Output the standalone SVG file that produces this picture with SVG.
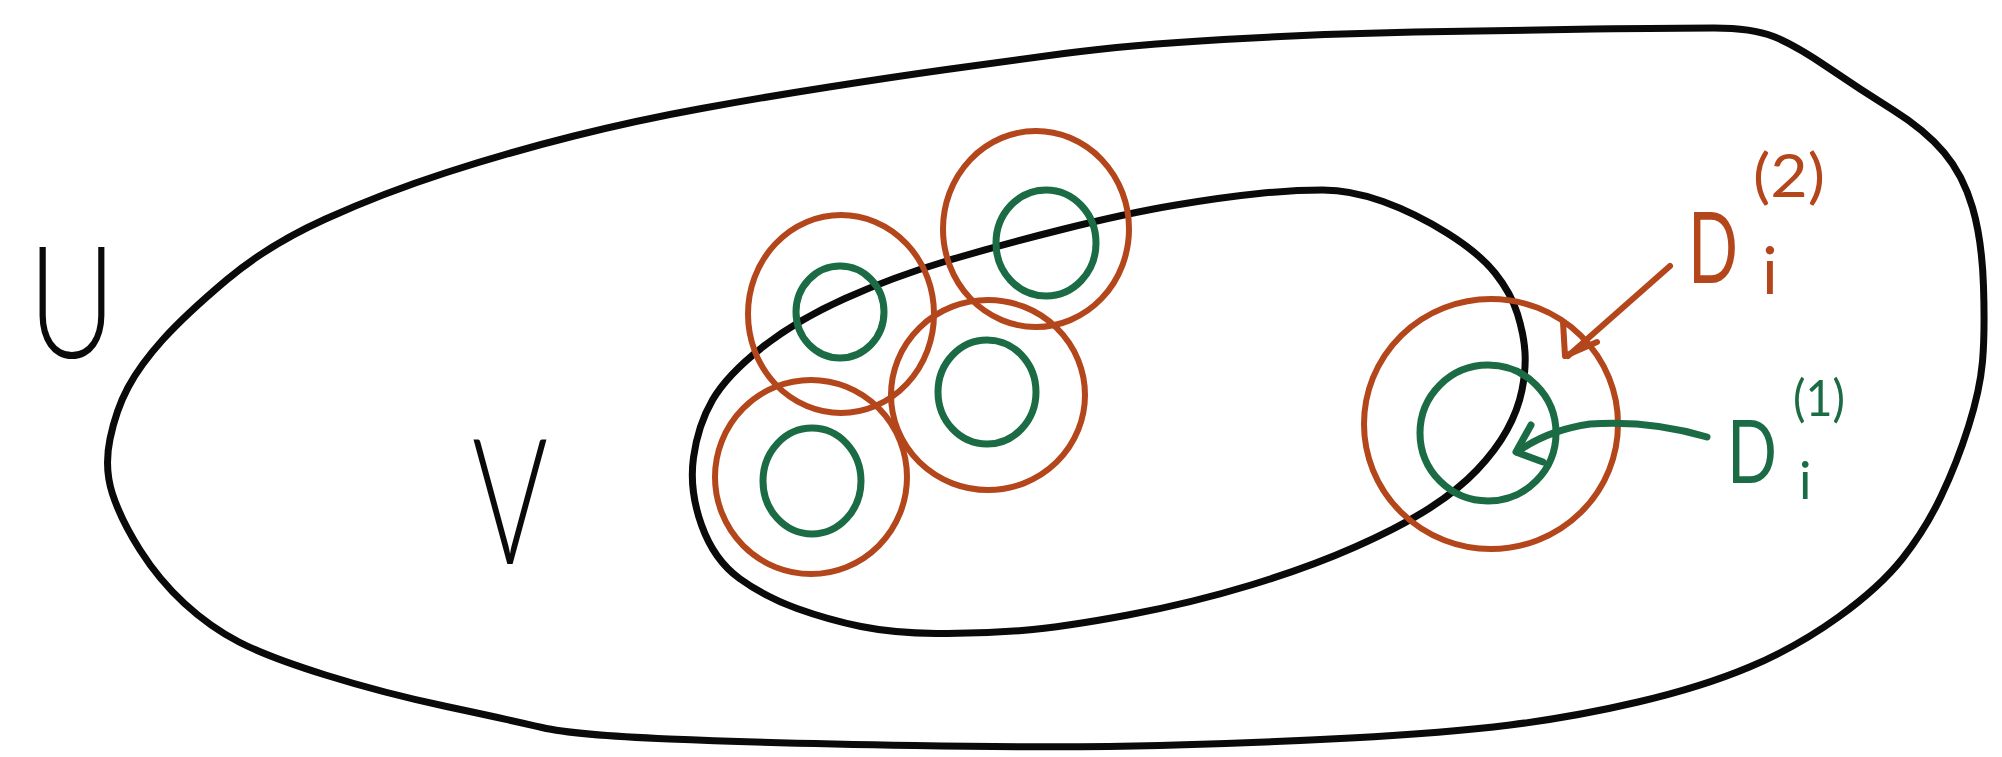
<svg xmlns="http://www.w3.org/2000/svg" width="2002" height="757" viewBox="0 0 2002 757">
<style>
.blk{fill:none;stroke:#0a0a0a;stroke-width:7;stroke-linecap:round;stroke-linejoin:round}
.org{fill:none;stroke:#b4461c;stroke-width:6;stroke-linecap:round;stroke-linejoin:round}
.grn{fill:none;stroke:#1b6b45;stroke-width:7;stroke-linecap:round;stroke-linejoin:round}
.lbl{font-family:Lato,"Liberation Sans",sans-serif;font-weight:300;fill:#0a0a0a}
.lo{font-family:Lato,"Liberation Sans",sans-serif;font-weight:400;fill:#b4461c}
.lg{font-family:Lato,"Liberation Sans",sans-serif;font-weight:400;fill:#1b6b45}
</style>
<rect width="2002" height="757" fill="#ffffff"/>

<g id="set-U">
<path class="blk" d="M112.5,494 Q104,468 110,439 Q116,410 128,387.5 Q140,365 162.5,340 Q185,315 226.5,280 Q268,245 325.5,219 Q383,193 446.5,172.5 Q510,152 574,136 Q638,120 701.5,108.5 Q765,97 829,87 Q893,77 946.5,69.5 Q1000,62 1064,53.5 Q1128,45 1223.5,39.5 Q1319,34 1414.5,32 Q1510,30 1593,29 Q1676,28 1714,28 Q1752,28 1773.5,36.5 Q1795,45 1828,67.5 Q1861,90 1893,110 Q1925,130 1944,152.5 Q1963,175 1972.5,207.5 Q1982,240 1983.5,286.5 Q1985,333 1982.5,361.5 Q1980,390 1968.5,426.5 Q1957,463 1941,496.5 Q1925,530 1902.5,558.5 Q1880,587 1838.5,617 Q1797,647 1749.5,667 Q1702,687 1638,702 Q1574,717 1510,725 Q1446,733 1350.5,738 Q1255,743 1159.5,745.5 Q1064,748 914.5,745.5 Q765,743 669.5,739 Q574,735 542,727.5 Q510,720 446.5,706.5 Q383,693 325.5,675 Q268,657 239,642 Q210,627 184.5,603.5 Q159,580 140,550 Q121,520 112.5,494 Z"/>
<text class="lbl" x="28" y="358" font-size="157" textLength="88" lengthAdjust="spacingAndGlyphs">U</text>
</g>

<g id="set-V">
<path class="blk" d="M701.5,525 Q689,490 693.5,457.5 Q698,425 712.5,400 Q727,375 762,347.5 Q797,320 845,298.5 Q893,277 946.5,261 Q1000,245 1064,229 Q1128,213 1176,205 Q1224,197 1259,193.5 Q1294,190 1322.5,190 Q1351,190 1383,201.5 Q1415,213 1447,233 Q1479,253 1495,273 Q1511,293 1517.5,314 Q1524,335 1525,352.5 Q1526,370 1522,390 Q1518,410 1507,430 Q1496,450 1477,470 Q1458,490 1429,508.5 Q1400,527 1355,547 Q1310,567 1251,585 Q1192,603 1128,615 Q1064,627 1022,630.5 Q980,634 936.5,633.5 Q893,633 861,626.5 Q829,620 797,608.5 Q765,597 739.5,578.5 Q714,560 701.5,525 Z"/>
<text class="lbl" x="472" y="564" font-size="175" textLength="76" lengthAdjust="spacingAndGlyphs">V</text>
</g>

<g id="disk-a">
<ellipse class="org" cx="841" cy="314" rx="93" ry="99"/>
<ellipse class="grn" cx="840" cy="312" rx="44" ry="46"/>
</g>
<g id="disk-b">
<ellipse class="org" cx="1036" cy="229" rx="93" ry="98"/>
<ellipse class="grn" cx="1046" cy="243" rx="50" ry="53"/>
</g>
<g id="disk-c">
<ellipse class="org" cx="988" cy="395" rx="97" ry="95"/>
<ellipse class="grn" cx="987" cy="392" rx="49" ry="52"/>
</g>
<g id="disk-d">
<ellipse class="org" cx="811" cy="477" rx="96" ry="97"/>
<ellipse class="grn" cx="812" cy="481" rx="49" ry="53"/>
</g>
<g id="disk-i">
<ellipse class="org" cx="1491" cy="424" rx="127" ry="125"/>
<ellipse class="grn" cx="1488" cy="433" rx="68" ry="68"/>
</g>

<g id="connectors">
<path class="org" d="M1670,266 L1568,356"/>
<polyline class="org" points="1563,322 1565,356 1597,342"/>
<path class="grn" d="M1707,437 Q1650,420 1590,424 Q1548,430 1517,452"/>
<polyline class="grn" points="1531,425 1516,452 1543,462"/>
</g>

<g id="label-D2">
<text class="lo" x="1688" y="283" font-size="98" textLength="50" lengthAdjust="spacingAndGlyphs">D</text>
<text class="lo" x="1762" y="294" font-size="66">i</text>
<text class="lo" x="1753" y="197" font-size="60" textLength="72" lengthAdjust="spacingAndGlyphs">(2)</text>
</g>
<g id="label-D1">
<text class="lg" x="1727" y="483" font-size="88" textLength="50" lengthAdjust="spacingAndGlyphs">D</text>
<text class="lg" x="1799" y="499" font-size="52">i</text>
<text class="lg" x="1793" y="416" font-size="50" textLength="52" lengthAdjust="spacingAndGlyphs">(1)</text>
</g>
</svg>
